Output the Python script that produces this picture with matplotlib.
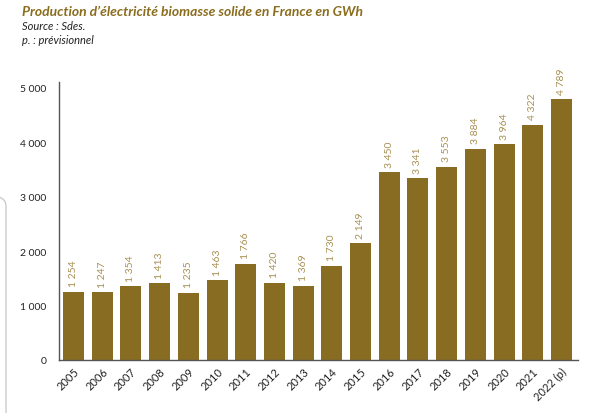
import matplotlib
matplotlib.use('Agg')
import matplotlib.pyplot as plt
from matplotlib.patches import FancyBboxPatch

years = ['2005', '2006', '2007', '2008', '2009', '2010', '2011', '2012', '2013',
         '2014', '2015', '2016', '2017', '2018', '2019', '2020', '2021', '2022 (p)']
values = [1254, 1247, 1354, 1413, 1235, 1463, 1766, 1420, 1369,
          1730, 2149, 3450, 3341, 3553, 3884, 3964, 4322, 4789]
yticks = [0, 1000, 2000, 3000, 4000, 5000]

title = "Production d\u2019électricité biomasse solide en France en GWh"
source = "Source : Sdes."
note = "p. : prévisionnel"

bar_color = '#876c22'
label_color = '#a89155'
title_color = '#8b6d1e'

plt.rcParams['font.family'] = ['Lato', 'DejaVu Sans']

def fmt(v):
    s = f'{v:,}'
    return s.replace(',', ' ')

fig = plt.figure(figsize=(5.94, 4.14), dpi=100)
ax = fig.add_axes([59/594, 1 - 361/414, (578-59)/594, (361-83)/414])

x = list(range(len(years)))
ax.bar(x, values, width=0.73, color=bar_color, zorder=2)
for xi, v in zip(x, values):
    ax.annotate(fmt(v), (xi, v), xytext=(0, 4), textcoords='offset points',
                rotation=90, ha='center', va='bottom', fontsize=7.5,
                color=label_color)

ax.set_xlim(-0.505, 17.575)
ax.set_ylim(0, 5110)
ax.set_xticks(x)
ax.set_xticklabels(years, rotation=45, ha='right', rotation_mode='anchor',
                   fontsize=8, color='#222222')
ax.set_yticks(yticks)
ax.set_yticklabels([fmt(t) for t in yticks], fontsize=7.5, color='#222222')
ax.tick_params(axis='y', length=0, pad=9)
ax.tick_params(axis='x', length=0, pad=4)
for side in ['top', 'right']:
    ax.spines[side].set_visible(False)
for side in ['left', 'bottom']:
    ax.spines[side].set_color('#555555')
    ax.spines[side].set_linewidth(1.0)

fig.text(22/594, 1 - 12/414, title, fontsize=10, fontweight='bold',
         fontstyle='italic', color=title_color, va='center', ha='left')
fig.text(22/594, 1 - 27/414, source, fontsize=8, fontstyle='italic',
         color='#222222', va='center', ha='left')
fig.text(22/594, 1 - 40/414, note, fontsize=8, fontstyle='italic',
         color='#222222', va='center', ha='left')

# side panel border at the left edge
box = FancyBboxPatch((-20/594, -0.1), 26/594, 1 - 197/414 + 0.1,
                     boxstyle='round,pad=0,rounding_size=0.025',
                     transform=fig.transFigure, fill=False,
                     edgecolor='#cccccc', linewidth=1.0, clip_on=False)
fig.patches.append(box)

fig.savefig('out.png', dpi=100)
